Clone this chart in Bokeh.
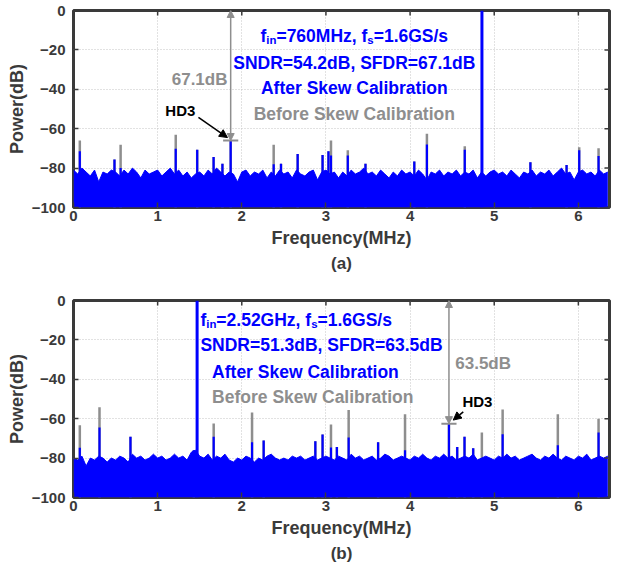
import numpy as np
from bokeh.plotting import figure
from bokeh.models import ColumnDataSource, Arrow, NormalHead, Title, Range1d
from bokeh.layouts import column
from bokeh.embed import file_html
from bokeh.resources import INLINE
from bokeh.core.properties import value

# ---------------- data ----------------
x_ticks = [0, 1, 2, 3, 4, 5, 6]
y_ticks = [0, -20, -40, -60, -80, -100]
x_max = 6.37
floor_db = -100.0

NOISE_STEP = 0.05  # MHz between noise-floor readings
noise_a = [-81, -83, -80, -82, -84, -81, -87, -82, -83, -81,
           -82, -84, -81, -83, -80, -82, -85, -81, -83, -82,
           -81, -84, -82, -80, -83, -81, -84, -82, -85, -83,
           -82, -84, -81, -83, -80, -82, -84, -82, -83, -87,
           -82, -81, -84, -82, -83, -81, -85, -82, -84, -81,
           -83, -82, -85, -81, -83, -84, -82, -81, -86, -82,
           -81, -83, -82, -85, -82, -84, -81, -83, -82, -80,
           -83, -82, -84, -81, -83, -85, -82, -84, -81, -83,
           -82, -84, -81, -83, -86, -82, -83, -81, -84, -82,
           -83, -81, -84, -82, -83, -81, -85, -82, -84, -82,
           -81, -83, -82, -84, -81, -83, -85, -82, -83, -81,
           -84, -82, -83, -81, -84, -82, -80, -83, -82, -86,
           -82, -81, -83, -82, -84, -81, -83, -82]
noise_b = [-80, -81, -79, -84, -80, -81, -79, -80, -82, -80,
           -81, -79, -80, -82, -78, -80, -79, -81, -80, -78,
           -80, -79, -81, -80, -78, -80, -79, -81, -77, -76,
           -79, -80, -78, -81, -79, -80, -78, -81, -82, -80,
           -81, -79, -80, -82, -80, -81, -79, -78, -80, -81,
           -80, -81, -79, -80, -79, -81, -80, -79, -81, -80,
           -79, -80, -81, -79, -80, -81, -78, -80, -79, -81,
           -80, -79, -81, -80, -78, -79, -81, -80, -79, -80,
           -81, -79, -80, -78, -80, -81, -79, -80, -78, -80,
           -79, -81, -80, -79, -80, -78, -81, -80, -79, -80,
           -81, -79, -80, -78, -80, -79, -81, -80, -79, -78,
           -80, -81, -79, -80, -78, -80, -81, -79, -80, -81,
           -79, -80, -78, -81, -80, -79, -80, -79]

# (a) fin = 760 MHz
tone_f_a = 4.854
tone_db_a = 0.0
spur_f_a = [0.075, 0.487, 0.56, 1.215, 1.47, 1.665, 1.77, 1.868, 2.379, 2.466, 2.664,
            2.96, 3.03, 3.06, 3.26, 3.47, 4.05, 4.20, 4.65, 5.43, 5.86, 6.01, 6.24]
before_a = [-66, -75.6, -68.2, -63.1, -70.7, -74.4, -77.8, -66, -68.2, -77.8, -72.8,
            -73.3, -71.4, -66, -71, -77.8, -76.6, -62.6, -68.9, -77, -78.4, -69.4, -69.9]
after_a = [-71.4, -75.6, -80, -70.2, -70.7, -74.4, -77.8, -66, -78, -77.8, -72.8,
           -73.3, -71.4, -73.6, -73.6, -77.8, -76.6, -68, -70.7, -77, -78.4, -71, -73.8]
hd3_idx_a = 7

# (b) fin = 2.52 GHz
tone_f_b = 1.469
tone_db_b = 0.0
spur_f_b = [0.075, 0.309, 0.677, 1.43, 1.666, 2.122, 2.26, 2.874, 2.96, 3.06, 3.13,
            3.27, 3.62, 3.94, 4.462, 4.56, 4.647, 4.75, 4.853, 5.10, 5.756, 6.24]
before_b = [-63.3, -54.2, -69.2, -76, -62.4, -56.8, -71.1, -71.4, -68, -63, -74.4,
            -55.6, -71.9, -57.7, -62.5, -74.4, -69.2, -75, -67, -55.3, -57.8, -60]
after_b = [-74.7, -64.5, -69.2, -76, -69.2, -71.9, -71.1, -71.4, -68, -74.6, -74.4,
           -69.6, -71.9, -76, -62.5, -74.4, -69.2, -75, -80, -67.9, -73.5, -67]
hd3_idx_b = 14

text_a = ["SNDR=54.2dB, SFDR=67.1dB", "After Skew Calibration", "Before Skew Calibration"]
line1_a = [("f", False), ("in", True), ("=760MHz, f", False), ("s", True), ("=1.6GS/s", False)]
text_b = ["SNDR=51.3dB, SFDR=63.5dB", "After Skew Calibration", "Before Skew Calibration"]
line1_b = [("f", False), ("in", True), ("=2.52GHz, f", False), ("s", True), ("=1.6GS/s", False)]
sfdr_label_a = "67.1dB"
sfdr_label_b = "63.5dB"

# ---------------- styling ----------------
FONT = "Liberation Sans"
BLUE = "#0000ff"
GRAY = "#8e8e8e"
DARK = "#3a3a3a"

W = {' ': 278, ',': 278, '.': 278, '/': 278, '=': 584, 'f': 333, 'i': 278, 'n': 611,
     's': 556, 'M': 833, 'H': 722, 'z': 500, 'G': 778, 'S': 667}
for d in "0123456789":
    W[d] = 556


def text_width(s, size):
    return sum(W.get(c, 600) for c in s) * size / 1000.0


def txt(p, x, y, s, size, color, align="center", **kw):
    p.text(x=[x], y=[y], text=[s], text_font=value(FONT), text_font_style="bold",
           text_font_size=f"{size}px", text_color=color, text_align=align,
           text_baseline="middle", **kw)


def rich(p, x, y, pieces, size, color, anchor):
    sub = size * 0.65
    widths = [text_width(t, sub if s else size) for t, s in pieces]
    off = -sum(widths) / 2 if anchor == "center" else 0.0
    for (t, s), w in zip(pieces, widths):
        txt(p, x, y, t, round(sub if s else size, 1), color, align="left",
            x_offset=off, y_offset=(4 if s else 0))
        off += w


def panel(noise, spur_f, before, after, tone_f, tone_db, height, b_top, b_bottom, caption):
    p = figure(width=611, height=height, x_range=Range1d(0, x_max),
               y_range=Range1d(floor_db, 0), output_backend="svg", toolbar_location=None,
               min_border_left=73, min_border_right=2, min_border_top=b_top,
               min_border_bottom=b_bottom, x_axis_label="Frequency(MHz)",
               y_axis_label="Power(dB)")
    for ax in p.axis:
        ax.axis_line_color = None
        ax.major_tick_in = 5
        ax.major_tick_out = 0
        ax.major_tick_line_color = DARK
        ax.major_tick_line_width = 1.5
        ax.minor_tick_line_color = None
        ax.major_label_text_font = FONT
        ax.major_label_text_font_style = "bold"
        ax.major_label_text_font_size = "15px"
        ax.major_label_text_color = DARK
        ax.axis_label_text_font = FONT
        ax.axis_label_text_font_style = "bold"
        ax.axis_label_text_font_size = "18px"
        ax.axis_label_text_color = DARK
    p.xaxis.ticker = x_ticks
    p.yaxis.ticker = y_ticks
    p.xaxis.major_label_standoff = 3
    p.xaxis.axis_label_standoff = 4
    p.yaxis.major_label_standoff = 8
    p.yaxis.axis_label_standoff = 2
    p.xgrid.ticker = x_ticks
    p.ygrid.ticker = y_ticks
    for g in (p.xgrid[0], p.ygrid[0]):
        g.grid_line_color = "#c4c4c4"
        g.grid_line_dash = "1 2"
        g.grid_line_width = 1
    p.outline_line_color = DARK
    p.outline_line_width = 3
    p.outline_line_alpha = 1

    nf = np.arange(len(noise)) * NOISE_STEP
    src = ColumnDataSource(dict(f=spur_f, before=before, after=after,
                                base=[floor_db] * len(spur_f)))
    p.segment(x0="f", y0="base", x1="f", y1="before", source=src,
              line_color=GRAY, line_width=2.5)
    p.varea(x=nf, y1=[floor_db] * len(noise), y2=noise, fill_color=BLUE)
    p.line(nf, noise, line_color=BLUE, line_width=1)
    p.segment(x0="f", y0="base", x1="f", y1="after", source=src,
              line_color=BLUE, line_width=2.2)
    p.segment(x0=[tone_f], y0=[floor_db], x1=[tone_f], y1=[tone_db],
              line_color=BLUE, line_width=3)

    # inward box ticks on the top and right edges (clipped to the frame)
    p.scatter(x=x_ticks, y=[0] * len(x_ticks), marker="dash", size=10, angle=np.pi / 2,
              line_color=DARK, line_width=1.5)
    p.scatter(x=[x_max] * len(y_ticks), y=y_ticks, marker="dash", size=10,
              line_color=DARK, line_width=1.5)

    p.add_layout(Title(text=caption, align="center", text_font=FONT,
                       text_font_style="bold", text_font_size="17px",
                       text_color=DARK, standoff=2), "below")
    return p


def sfdr_marker(p, f, lvl, label, lx, ly, lalign, hx, hy, a0, a1):
    p.add_layout(Arrow(x_start=f, y_start=lvl, x_end=f, y_end=0,
                       start=NormalHead(size=7, fill_color=GRAY, line_color=GRAY),
                       end=NormalHead(size=7, fill_color=GRAY, line_color=GRAY),
                       line_color=GRAY, line_width=1.5))
    p.segment(x0=[f - 0.09], y0=[lvl], x1=[f + 0.09], y1=[lvl], line_color=GRAY, line_width=2)
    txt(p, lx, ly, label, 17, GRAY, align=lalign)
    txt(p, hx, hy, "HD3", 15, "black", align="center")
    p.add_layout(Arrow(x_start=a0[0], y_start=a0[1], x_end=a1[0], y_end=a1[1],
                       end=NormalHead(size=8, fill_color="black", line_color="black"),
                       line_color="black", line_width=1.5))


# ---- panel (a)
pa = panel(noise_a, spur_f_a, before_a, after_a, tone_f_a, tone_db_a, 285, 10, 78, "(a)")
fa, la = spur_f_a[hd3_idx_a], after_a[hd3_idx_a]
sfdr_marker(pa, fa, la, sfdr_label_a, 1.83, -35, "right", 1.27, -50.8,
            (1.485, -54.3), (1.83, -64.5))
rich(pa, 3.337, -12.7, line1_a, 17.5, BLUE, "center")
txt(pa, 3.337, -26.4, text_a[0], 17.5, BLUE)
txt(pa, 3.337, -39.1, text_a[1], 17.5, BLUE)
txt(pa, 3.337, -52.3, text_a[2], 17.5, GRAY)

# ---- panel (b)
pb = panel(noise_b, spur_f_b, before_b, after_b, tone_f_b, tone_db_b, 287, 15, 75, "(b)")
fb, lb = spur_f_b[hd3_idx_b], after_b[hd3_idx_b]
sfdr_marker(pb, fb, lb, sfdr_label_b, 4.537, -32.1, "left", 4.80, -51.4,
            (4.632, -56.5), (4.513, -60.7))
rich(pb, 1.508, -9.7, line1_b, 17.5, BLUE, "left")
txt(pb, 1.508, -22.4, text_b[0], 17.5, BLUE, align="left")
txt(pb, 1.647, -36.1, text_b[1], 17.5, BLUE, align="left")
txt(pb, 1.647, -49.0, text_b[2], 17.5, GRAY, align="left")

layout = column(pa, pb)
open("out.html", "w").write(file_html(layout, INLINE))
